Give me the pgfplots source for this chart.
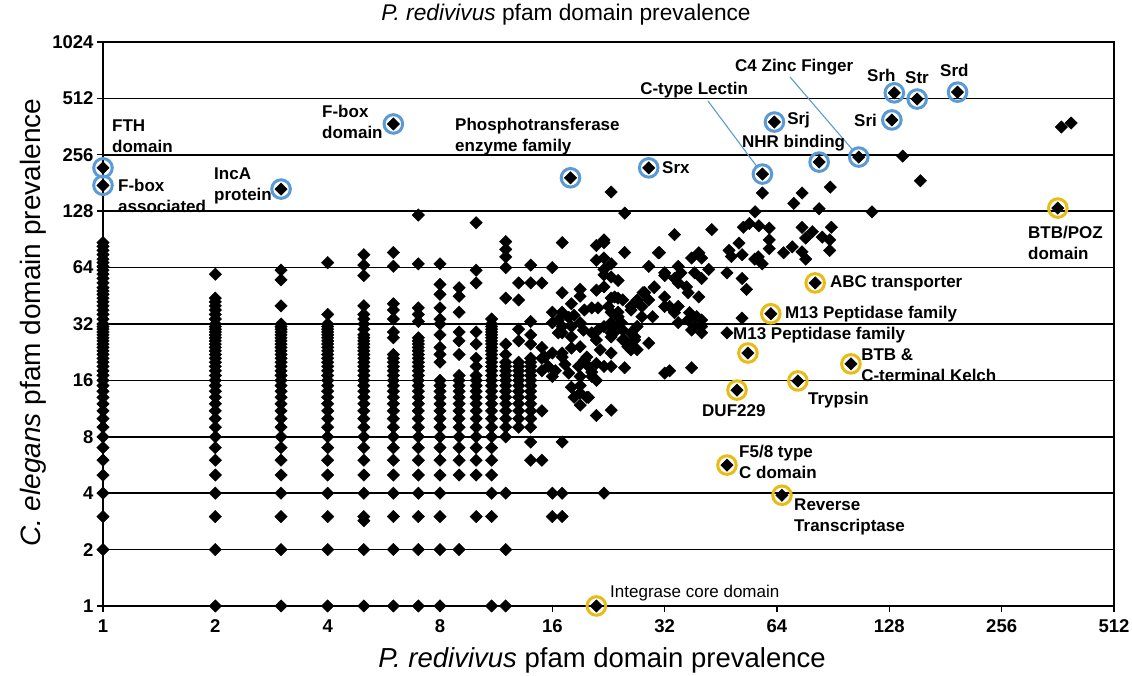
\documentclass[border=0pt]{standalone}
\usepackage{fontspec}
\setmainfont{Liberation Sans}
\usepackage{pgfplots}
\pgfplotsset{compat=1.18}
\definecolor{ringblue}{RGB}{91,155,213}
\definecolor{ringyellow}{RGB}{232,188,20}
\newcommand{\lbl}{\fontsize{17}{21}\selectfont\bfseries}
\begin{document}
\begin{tikzpicture}
\begin{axis}[
 scale only axis, width=1011pt, height=564pt,
 xmode=log, ymode=log, log basis x=2, log basis y=2,
 xmin=1, xmax=512, ymin=1, ymax=1024,
 xtick={1,2,4,8,16,32,64,128,256,512},
 xticklabels={1,2,4,8,16,32,64,128,256,512},
 ytick={1,2,4,8,16,32,64,128,256,512,1024},
 yticklabels={1,2,4,8,16,32,64,128,256,512,1024},
 tick align=outside, major tick length=6pt, xtick pos=bottom, ytick pos=left,
 ymajorgrids, major grid style={black, line width=1.7pt},
 axis line style={black, line width=1.7pt},
 tick style={black, line width=1.4pt},
 ticklabel style={font=\fontsize{18.5}{20}\selectfont\bfseries},
 xticklabel style={yshift=-4pt},
 clip=false,
]
% columns
\addplot[only marks, mark=square*, mark size=4.4pt, mark options={rotate=45, fill=black, draw=black}] coordinates {
(1,2)(1,3)(1,4)(1,5)(1,6)(1,7)(1,8)(1,9)(1,10)(1,11)(1,12)(1,13)(1,14)(1,15)(1,16)(1,17)(1,18)(1,19)(1,20)(1,21)(1,22)(1,23)(1,24)(1,25)(1,26)(1,27)(1,28)(1,29)(1,30)(1,31)(1,32)(1,34)(1,36)(1,38)(1,40)(1,42)(1,44)(1,46)(1,48)(1,50)(1,53)(1,56)(1,59)(1,62)(1,65)(1,68)(1,71)(1,75)(1,79)(1,83)(1,87)
(2,1)(2,2)(2,3)(2,4)(2,5)(2,6)(2,7)(2,8)(2,9)(2,10)(2,11)(2,12)(2,13)(2,14)(2,15)(2,16)(2,17)(2,18)(2,19)(2,20)(2,21)(2,22)(2,23)(2,24)(2,25)(2,26)(2,27)(2,28)(2,29)(2,30)(2,31)(2,32)(2,34)(2,36)(2,38)(2,40)(2,42)(2,44)(2,59)
(3,1)(3,2)(3,3)(3,4)(3,5)(3,6)(3,7)(3,8)(3,9)(3,10)(3,11)(3,12)(3,13)(3,14)(3,15)(3,16)(3,17)(3,18)(3,19)(3,20)(3,21)(3,22)(3,23)(3,24)(3,25)(3,26)(3,27)(3,28)(3,29)(3,30)(3,31)(3,32)(3,40)(3,55)(3,62)
(4,1)(4,2)(4,3)(4,4)(4,5)(4,6)(4,7)(4,8)(4,9)(4,10)(4,11)(4,12)(4,13)(4,14)(4,15)(4,16)(4,17)(4,18)(4,19)(4,20)(4,21)(4,22)(4,23)(4,24)(4,25)(4,26)(4,27)(4,28)(4,29)(4,30)(4,31)(4,32)(4,36)(4,68)
(5,1)(5,2)(5,2.85)(5,3)(5,4)(5,5)(5,6)(5,7)(5,8)(5,9)(5,10)(5,11)(5,12)(5,13)(5,14)(5,15)(5,16)(5,17)(5,18)(5,19)(5,20)(5,21)(5,22)(5,23)(5,24)(5,25)(5,26)(5,27)(5,28)(5,30)(5,32)(5,34)(5,36)(5,40)(5,58)(5,66)(5,75)
(6,1)(6,2)(6,3)(6,4)(6,5)(6,6)(6,7)(6,8)(6,9)(6,10)(6,11)(6,12)(6,13)(6,14)(6,15)(6,16)(6,17)(6,18)(6,19)(6,20)(6,21)(6,22)(6,27)(6,29)(6,34)(6,38)(6,41)(6,65)(6,77)
(7,1)(7,2)(7,3)(7,4)(7,5)(7,6)(7,7)(7,8)(7,9)(7,10)(7,11)(7,12)(7,13)(7,14)(7,15)(7,16)(7,17)(7,18)(7,19)(7,20)(7,21)(7,22)(7,23)(7,24)(7,25)(7,26)(7,27)(7,33)(7,36)(7,39)(7,67)(7,122)
(8,1)(8,2)(8,3)(8,4)(8,5)(8,6)(8,7)(8,8)(8,9)(8,10)(8,11)(8,12)(8,13)(8,14)(8,15)(8,16)(8,20)(8,22)(8,24)(8,28)(8,32)(8,34)(8,39)(8,46)(8,52)(8,67)
(9,2)(9,5)(9,6)(9,7)(9,8)(9,9)(9,10)(9,11)(9,12)(9,13)(9,14)(9,15)(9,16)(9,17)(9,22)(9,26)(9,29)(9,37)(9,45)(9,50)
(10,3)(10,5)(10,6)(10,7)(10,8)(10,9)(10,10)(10,11)(10,12)(10,13)(10,14)(10,15)(10,16)(10,17)(10,19)(10,21)(10,25)(10,29)(10,53)(10,62)(10,111)
(11,1)(11,3)(11,4)(11,5)(11,6)(11,7)(11,8)(11,9)(11,10)(11,11)(11,12)(11,13)(11,14)(11,15)(11,16)(11,17)(11,18)(11,19)(11,20)(11,21)(11,22)(11,23)(11,24)(11,25)(11,26)(11,27)(11,28)(11,29)(11,30)(11,31)(11,32)(11,34)
(12,1)(12,2)(12,4)(12,8)(12,9)(12,10)(12,11)(12,12)(12,13)(12,14)(12,15)(12,16)(12,17)(12,18)(12,19)(12,20)(12,22)(12,25)(12,44)(12,64)(12,73)(12,80)(12,88)
(13,9)(13,10)(13,11)(13,12)(13,13)(13,14)(13,15)(13,16)(13,17)(13,18)(13,19)(13,20)(13,26)(13,30)(13,43)(13,53)
(14,6)(14,7.5)(14,9)(14,10)(14,11)(14,12)(14,13)(14,14)(14,15)(14,16)(14,17)(14,18)(14,19)(14,20)(14,21)(14,25)(14,28)(14,33)(14,53)(14,66)
(15,6)(15,11)(15,18)(15,21)(15,24)(15,53)
};
% scattered cloud
\addplot[only marks, mark=square*, mark size=4.4pt, mark options={rotate=45, fill=black, draw=black}] coordinates {
(16,64)(17,87)(21,84)(22,90)(22,87)(23,162)(25,125)(25,77)(21,70)(22,72)(23,67)(22,58.5)(23,57)(17,47)(19,49)(19,45)(18,41)(17,37)(16,37)(16.6,33.6)(17.7,34.7)(18.3,35.6)(19.5,38)(20.4,39)(21.2,39)(23,44)(24,44)(23,37)(24,37)(23,31)(23.5,29)(24,31)(16,32.5)(17,31)(18,31)(19,32.5)(17,28.7)(18,27.3)(21,26.3)(21.5,23.3)(23,22.4)(25,26.3)(25.5,24.2)(16,22.4)(17,22.4)(18,23.8)(19.5,20.5)(20,19)(19,16.8)(20.4,17.7)(22,19)(23,19)(18,14.7)(19,13.7)(20,13)(21,16)(21,10.4)(23,11.1)(25,18.7)
(58.5,160)(74.7,160)(71,141)(88.9,172)(83,132)(55.9,127)(54,110)(52,105)(57.2,107)(61,104)(42.8,102)(34,96)(61,90)(61,80.8)(50.6,86.5)(47.6,79)(48.3,73.3)(51.6,75)(55.8,71)(58.4,67)(57,73)(74.7,105)(79.6,99.5)(76.4,92)(84.6,93)(89.5,105)(88.6,90)(66.7,76.8)(70.3,82.5)(74.7,77.6)(76.4,71)(88.6,79)(30.8,76.8)(39.5,76.8)(37.8,72)(40.2,72)(29,65)(32,60)(34.8,65)(35.4,60)(34,56)(38.5,60)(40.2,56)(36.6,50.5)(34.8,53)(47,60)(51.6,56)(53,49)(42,62.6)(22,62.6)(24,54.6)(22,50.5)(30,50.5)(28.3,47)(27,43)(26,39.7)(27.8,39.7)(29,43)(32,44.6)(33,39.7)(34.8,39.7)(37,47)(39.5,44.6)(37.3,36.8)(39,35)(40.2,33.6)(38.5,31)(40.2,31)(23.5,44.6)(24.7,43)(22.6,39.7)(24,35)(24.5,32.5)(22,31)(23,28.7)(24.7,26.3)(26,28.7)(26.6,26.3)(27,31)(27.8,35)(29.7,35)(29,25.3)(27,23.3)(26,24.2)(34.8,32.5)(37.8,29.7)(40.2,28.7)(47,28.7)(51.6,34.4)(33,18)(32,17.5)(37.8,18.7)
(31,77)(32,58)(21,48.5)(28,47)(30,50)(26,38)(32,39.7)(34,36.8)(37,33.6)(16.6,28.7)(19.4,29.7)(20.4,28.7)(21.2,29.7)(23,32.5)(24.7,29.7)(23,27.3)(26.6,27.3)(26,23.3)(15.3,21.3)(15.6,19)(16,16.8)(16.3,18)(17,21.3)(17.3,19.5)(17.7,17.5)(18.8,19)(19,24.2)(19.8,21.3)(21,19.7)(20.4,16.8)(18.3,13)(19,15)(19,11.8)(19.8,13)(17,7.5)(16,4)(17,4)(22,4)(16,3)(17,3)
(139,252)(155,186)(115,127)(370,360)(393,378)
(1,218)(1,176)(3,168)(6,374)(17.9,193)(29,218)(58.5,202)(63,383)(83,234)(106,249)(130,393)(132,548)(152,508)(195,553)
(81,53)(61.6,36.3)(53.5,22.4)(72.8,15.9)(50,14.2)(101,19.6)(47,5.65)(66,3.9)(21,1)(362,133)
};
% rings
\addplot[only marks, mark=o, mark size=9.3pt, ringblue, mark options={line width=3pt}] coordinates {
(1,218)(1,176)(3,168)(6,374)(17.9,193)(29,218)(58.5,202)(63,383)(83,234)(106,249)(130,393)(132,548)(152,508)(195,553)
};
\addplot[only marks, mark=o, mark size=9.3pt, ringyellow, mark options={line width=3pt}] coordinates {
(81,53)(61.6,36.3)(53.5,22.4)(72.8,15.9)(50,14.2)(101,19.6)(47,5.65)(66,3.9)(21,1)(362,133)
};
% leader lines
\draw[ringblue, line width=1.1pt, shorten >=10pt] (rel axis cs:0.5984,0.8954) -- (axis cs:58.5,202);
\draw[ringblue, line width=1.1pt, shorten >=10pt] (rel axis cs:0.6795,0.938) -- (axis cs:106,249);
% annotations
\begin{scope}[every node/.style={anchor=west, font=\lbl, align=left, inner sep=0pt}]
\node at (rel axis cs:0.0089,0.8333) {FTH\\domain};
\node at (rel axis cs:0.0148,0.7278) {F-box\\associated};
\node at (rel axis cs:0.1098,0.7456) {IncA\\protein};
\node at (rel axis cs:0.2166,0.8582) {F-box\\domain};
\node at (rel axis cs:0.3482,0.8316) {Phosphotransferase\\enzyme family};
\node at (rel axis cs:0.5529,0.7766) {Srx};
\node at (rel axis cs:0.5312,0.9149) {C-type Lectin};
\node at (rel axis cs:0.6251,0.9562) {C4 Zinc Finger};
\node at (rel axis cs:0.6766,0.8617) {Srj};
\node at (rel axis cs:0.632,0.8209) {NHR binding};
\node at (rel axis cs:0.7428,0.8617) {Sri};
\node at (rel axis cs:0.7557,0.9415) {Srh};
\node at (rel axis cs:0.7933,0.9362) {Str};
\node at (rel axis cs:0.8279,0.9491) {Srd};
\node at (rel axis cs:0.9149,0.6445) {BTB/POZ\\domain};
\node at (rel axis cs:0.719,0.5727) {ABC transporter};
\node at (rel axis cs:0.6746,0.5177) {M13 Peptidase family};
\node at (rel axis cs:0.6231,0.4805) {M13 Peptidase family};
\node at (rel axis cs:0.7498,0.4273) {BTB \&\\C-terminal Kelch};
\node at (rel axis cs:0.5925,0.3457) {DUF229};
\node at (rel axis cs:0.6973,0.3652) {Trypsin};
\node at (rel axis cs:0.6291,0.2553) {F5/8 type\\C domain};
\node at (rel axis cs:0.6835,0.1578) {Reverse\\Transcriptase};
\node[font=\fontsize{17}{20}\selectfont] at (rel axis cs:0.5015,0.023) {Integrase core domain};
\end{scope}
% titles
\node[font=\fontsize{22.7}{26}\selectfont] at (rel axis cs:0.458,1.048) {\textit{P. redivivus} pfam domain prevalence};
\node[font=\fontsize{27.5}{31}\selectfont] at (rel axis cs:0.4936,-0.0957) {\textit{P. redivivus} pfam domain prevalence};
\node[rotate=90, font=\fontsize{28}{32}\selectfont] at (rel axis cs:-0.0692,0.502) {\textit{C. elegans} pfam domain prevalence};
\end{axis}
\pgfresetboundingbox
\path ([shift={(-103pt,-70pt)}]current axis.south west) rectangle ([shift={(18pt,42pt)}]current axis.north east);
\end{tikzpicture}
\end{document}
